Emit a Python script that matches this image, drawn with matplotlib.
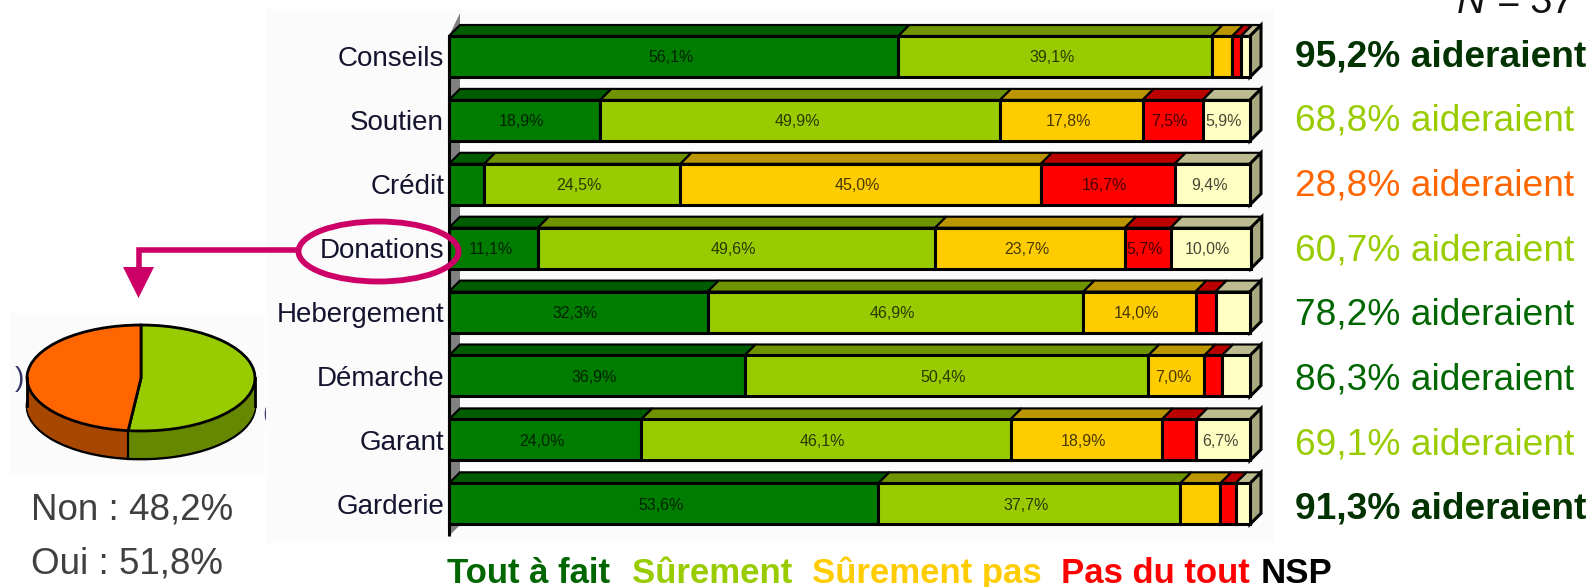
import matplotlib
matplotlib.use("Agg")
import matplotlib.pyplot as plt
from matplotlib.patches import Polygon, Ellipse, Rectangle
import numpy as np

plt.rcParams['font.family'] = ['Liberation Sans', 'DejaVu Sans']

categories = ["Conseils", "Soutien", "Crédit", "Donations", "Hebergement", "Démarche", "Garant", "Garderie"]
tout_a_fait = [56.1, 18.9, 4.4, 11.1, 32.3, 36.9, 24.0, 53.6]
surement = [39.1, 49.9, 24.5, 49.6, 46.9, 50.4, 46.1, 37.7]
surement_pas = [2.6, 17.8, 45.0, 23.7, 14.0, 7.0, 18.9, 5.0]
pas_du_tout = [1.1, 7.5, 16.7, 5.7, 2.5, 2.2, 4.3, 1.9]
nsp = [1.1, 5.9, 9.4, 10.0, 4.3, 3.5, 6.7, 1.8]
series_names = ["Tout à fait", "Sûrement", "Sûrement pas", "Pas du tout", "NSP"]
aideraient = ["95,2%", "68,8%", "28,8%", "60,7%", "78,2%", "86,3%", "69,1%", "91,3%"]
pie_labels = ["Oui", "Non"]
pie_values = [51.8, 48.2]

front = ["#007c00", "#99cc00", "#ffcc00", "#ff0000", "#ffffc4"]
top_c = ["#005c00", "#6f9400", "#bb9600", "#bb0000", "#bcbc90"]
side_c = "#a8a880"
legend_c = ["#006600", "#99cc00", "#ffcc00", "#ff0000", "#000000"]
aid_c = ["#003300", "#99cc00", "#ff6600", "#99cc00", "#006600", "#006600", "#99cc00", "#003300"]
aid_bold = [True, False, False, False, False, False, False, True]
pie_c = ["#99cc00", "#ff6600"]
pie_side = ["#668800", "#a84800"]
MAG = "#cc0066"

W, H = 1590, 587
fig = plt.figure(figsize=(W / 100, H / 100), dpi=100, facecolor="white")


def axes_px(x0, y0, x1, y1, **kw):
    return fig.add_axes([x0 / W, 1 - y1 / H, (x1 - x0) / W, (y1 - y0) / H], **kw)


# background panels
bg = axes_px(0, 0, W, H, zorder=0)
bg.set_xlim(0, W)
bg.set_ylim(H, 0)
bg.axis("off")
bg.add_patch(Rectangle((267, 9), 1008, 534, fc="#fbfbfb", ec="none", zorder=1))
bg.add_patch(Rectangle((10, 313), 255, 162, fc="#fbfbfb", ec="none", zorder=1))

# pie labels that the reference shows cut off at the panel edge
bg.text(15, 379, ")", fontsize=20, color="#333366", ha="left", va="center", zorder=2)
bg.text(262, 414, "(", fontsize=20, color="#333366", ha="left", va="center", zorder=2)
bg.add_patch(Rectangle((266, 395), 8, 40, fc="#fbfbfb", ec="none", zorder=3))

# stacked 3-D bars
PITCH, ROW0 = 63.9, 56.5
AX_L, AX_R, AX_T, AX_B = 449, 1250, 24, 536
ax = axes_px(AX_L, AX_T, AX_R, AX_B, zorder=1)
ax.patch.set_alpha(0)
ax.set_xlim(0, 100)
ax.set_ylim((AX_B - ROW0) / PITCH, (AX_T - ROW0) / PITCH)
for s in ax.spines.values():
    s.set_visible(False)
ax.set_xticks([])
ax.set_yticks(range(len(categories)))
ax.set_yticklabels(categories, fontsize=20, color="#14142e")
ax.tick_params(axis="y", length=0, pad=3.5)

px_x = (AX_R - AX_L) / 100
dx = 11 / px_x
dy = 11 / PITCH
bar_h = 41 / PITCH
LW = 2.2

# left wall
yt = -bar_h / 2
yb = (AX_B - ROW0) / PITCH
ax.add_patch(Polygon([(0, yt), (dx, yt - 23 / PITCH), (dx, yb - dy), (0, yb)],
                     closed=True, fc="#808080", ec="none", clip_on=False, zorder=1))
ax.plot([0, 0], [yt, yb], color="black", lw=LW, clip_on=False, zorder=1.5, solid_capstyle="butt")

series = [tout_a_fait, surement, surement_pas, pas_du_tout, nsp]
left = np.zeros(len(categories))
for j, vals in enumerate(series):
    vals = np.array(vals)
    ax.barh(range(len(categories)), vals, left=left, height=bar_h, color=front[j],
            edgecolor="black", linewidth=LW, clip_on=False, zorder=3)
    for i, v in enumerate(vals):
        x0, x1 = left[i], left[i] + v
        y = i - bar_h / 2
        ax.add_patch(Polygon([(x0, y), (x0 + dx, y - dy), (x1 + dx, y - dy), (x1, y)], closed=True,
                             fc=top_c[j], ec="black", lw=LW * 0.7, clip_on=False, zorder=2))
        if j == len(series) - 1:
            ax.add_patch(Polygon([(x1, y), (x1 + dx, y - dy), (x1 + dx, y - dy + bar_h), (x1, y + bar_h)],
                                 closed=True, fc=side_c, ec="black", lw=LW, clip_on=False, zorder=2))
        if v >= 5.5:
            ax.text((x0 + x1) / 2 - 3 / px_x, i + 1.5 / PITCH, f"{v:.1f}%".replace(".", ","), ha="center",
                    va="center", fontsize=11.5, color="black", alpha=0.72, zorder=4)
    left = left + vals

# 3-D pie
RY = 53.0
pax = axes_px(27, 325, 255, 459, zorder=1)
depth = 28 / RY
for k, off in enumerate(np.linspace(depth, 0, 30)):
    is_bottom = k == 0
    pax.pie(pie_values, colors=pie_side, startangle=90, counterclock=False, center=(0, -off),
            radius=1, wedgeprops=dict(edgecolor="black" if is_bottom else "none",
                                      linewidth=2.0 if is_bottom else 0))
pax.pie(pie_values, colors=pie_c, startangle=90, counterclock=False, center=(0, 0), radius=1,
        wedgeprops=dict(edgecolor="black", linewidth=2.0))
seam = np.deg2rad(90 - 360 * pie_values[0] / sum(pie_values))
pax.plot([np.cos(seam)] * 2, [np.sin(seam), np.sin(seam) - depth], color="black", lw=1.6)
for sx in (-1, 1):
    pax.plot([sx, sx], [0, -depth], color="black", lw=2.0)
pax.set_aspect("auto")
pax.set_xlim(-1, 1)
pax.set_ylim(1 - 134 / RY, 1)
pax.axis("off")
for a in pax.patches + pax.lines:
    a.set_clip_on(False)

# overlay: annotations and text, in pixel coordinates
ov = axes_px(0, 0, W, H, zorder=5)
ov.set_xlim(0, W)
ov.set_ylim(H, 0)
ov.axis("off")
ov.patch.set_alpha(0)

ov.add_patch(Ellipse((378.5, 251.5), 160, 60, fc="none", ec=MAG, lw=4.2))
ov.plot([298, 138.5, 138.5], [250, 250, 270], color=MAG, lw=4.0, solid_joinstyle="miter", solid_capstyle="butt")
ov.add_patch(Polygon([(123, 267), (154, 267), (138.5, 298)], closed=True, fc=MAG, ec="none"))

ov.text(31, 520, f"{pie_labels[1]} : {pie_values[1]:.1f}%".replace(".", ","), fontsize=26.5,
        color="#404040", ha="left", va="baseline")
ov.text(31, 573, f"{pie_labels[0]} : {pie_values[0]:.1f}%".replace(".", ","), fontsize=26.5,
        color="#404040", ha="left", va="baseline")

for i, t in enumerate(aideraient):
    ov.text(1295, 66 + 64.7 * i, f"{t} aideraient", fontsize=26.7, color=aid_c[i],
            fontweight="bold" if aid_bold[i] else "normal", ha="left", va="baseline")

ov.text(1457, 13, "N = 37", fontsize=28.5, style="italic", color="#111111", ha="left", va="baseline")

legend_x = [447, 632, 812, 1061, 1261]
for name, lx, c in zip(series_names, legend_x, legend_c):
    ov.text(lx, 583, name, fontsize=25, fontweight="bold", color=c, ha="left", va="baseline")

fig.savefig("out.png", dpi=100)
